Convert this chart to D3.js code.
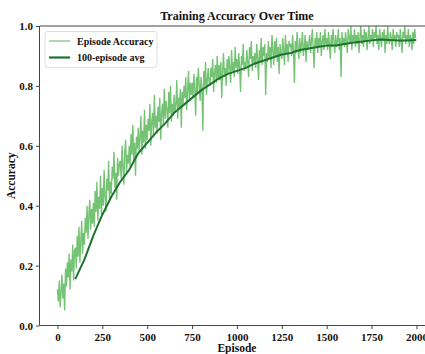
<!DOCTYPE html>
<html>
<head>
<meta charset="utf-8">
<script src="https://cdn.jsdelivr.net/npm/d3@7"></script>
<style>
  html, body { margin: 0; padding: 0; background: #fff; overflow: hidden; }
  svg { display: block; }
  text { font-family: "Liberation Serif", "Times New Roman", serif; font-weight: bold; fill: #111; }
</style>
</head>
<body>
<svg id="chart" width="425" height="354"></svg>
<script>
// ---- data ----
const episodeStep = 5;
const episodeAccuracy = [
  0.12,0.08,0.15,0.06,0.11,0.17,0.09,0.14,0.05,0.19,
  0.13,0.21,0.16,0.24,0.12,0.22,0.18,0.27,0.15,0.25,
  0.26,0.19,0.30,0.23,0.33,0.21,0.28,0.35,0.24,0.31,
  0.27,0.36,0.31,0.40,0.29,0.37,0.42,0.32,0.39,0.34,
  0.41,0.33,0.45,0.38,0.48,0.35,0.43,0.39,0.50,0.37,
  0.46,0.40,0.52,0.43,0.38,0.49,0.45,0.55,0.42,0.48,
  0.44,0.53,0.49,0.58,0.46,0.51,0.42,0.56,0.50,0.54,
  0.55,0.49,0.60,0.53,0.47,0.58,0.62,0.51,0.57,0.54,
  0.60,0.53,0.64,0.57,0.67,0.55,0.61,0.50,0.63,0.59,
  0.66,0.58,0.63,0.70,0.57,0.65,0.61,0.72,0.59,0.67,
  0.62,0.69,0.65,0.74,0.60,0.68,0.71,0.63,0.77,0.66,
  0.70,0.64,0.73,0.68,0.76,0.62,0.71,0.74,0.67,0.79,
  0.69,0.75,0.72,0.66,0.78,0.71,0.80,0.68,0.74,0.70,
  0.77,0.71,0.74,0.82,0.69,0.76,0.73,0.79,0.66,0.78,
  0.74,0.80,0.76,0.83,0.72,0.78,0.85,0.75,0.81,0.77,
  0.81,0.76,0.84,0.79,0.70,0.83,0.78,0.86,0.80,0.75,
  0.83,0.79,0.65,0.85,0.80,0.88,0.77,0.82,0.86,0.81,
  0.80,0.86,0.83,0.89,0.78,0.84,0.87,0.81,0.90,0.82,
  0.87,0.82,0.88,0.76,0.85,0.91,0.83,0.86,0.80,0.89,
  0.84,0.90,0.86,0.81,0.92,0.85,0.88,0.83,0.93,0.86,
  0.89,0.84,0.91,0.86,0.78,0.90,0.87,0.94,0.85,0.88,
  0.86,0.92,0.88,0.83,0.93,0.89,0.95,0.85,0.90,0.87,
  0.91,0.86,0.94,0.89,0.82,0.92,0.88,0.96,0.87,0.93,
  0.90,0.94,0.77,0.91,0.88,0.95,0.89,0.93,0.86,0.97,
  0.92,0.87,0.95,0.90,0.96,0.88,0.93,0.84,0.94,0.91,
  0.89,0.96,0.92,0.87,0.97,0.91,0.94,0.88,0.95,0.93,
  0.94,0.90,0.97,0.92,0.81,0.95,0.91,0.98,0.93,0.89,
  0.96,0.91,0.94,0.98,0.90,0.93,0.97,0.88,0.95,0.92,
  0.94,0.97,0.91,0.95,0.99,0.92,0.86,0.96,0.93,0.98,
  0.91,0.96,0.93,0.98,0.90,0.95,0.97,0.92,0.99,0.94,
  0.96,0.92,0.98,0.94,0.89,0.97,0.93,0.99,0.95,0.91,
  0.97,0.93,0.95,0.99,0.92,0.96,0.83,0.98,0.94,0.96,
  0.93,0.98,0.95,0.91,0.99,0.96,0.94,1.00,0.92,0.97,
  0.95,0.99,0.93,0.97,0.94,0.98,0.91,0.96,1.00,0.94,
  0.97,0.93,0.99,0.95,0.98,0.92,0.96,1.00,0.94,0.97,
  0.95,0.99,0.93,0.98,0.96,1.00,0.94,0.97,0.92,0.99,
  0.96,0.93,0.98,0.95,0.99,0.91,0.97,0.94,1.00,0.95,
  0.94,0.98,0.96,0.92,0.99,0.95,0.97,0.93,0.98,0.96,
  0.97,0.93,0.99,0.95,0.91,0.98,0.96,1.00,0.94,0.97,
  0.95,0.99,0.93,0.97,0.96,0.92,0.98,0.94,0.99,0.96
];
const avgEpisodes = [99,150,200,250,300,350,400,450,500,550,600,650,700,750,800,850,900,950,1000,
  1050,1100,1150,1200,1250,1300,1350,1400,1450,1500,1550,1600,1650,1700,1750,1800,1850,1900,1950,1999];
const avgAccuracy = [0.155,0.22,0.30,0.37,0.43,0.48,0.52,0.575,0.61,0.645,0.675,0.71,0.735,0.76,0.785,0.805,0.825,0.84,0.85,
  0.86,0.875,0.885,0.895,0.905,0.91,0.92,0.925,0.93,0.935,0.935,0.94,0.945,0.948,0.952,0.955,0.953,0.952,0.952,0.953];
const xTicks = [0,250,500,750,1000,1250,1500,1750,2000];
const yTicks = [0.0,0.2,0.4,0.6,0.8,1.0];
const seriesNames = ["Episode Accuracy", "100-episode avg"];
const titleText = "Training Accuracy Over Time";
const xLabel = "Episode";
const yLabel = "Accuracy";

// ---- layout ----
const svg = d3.select("#chart");
const L = 39.5, R = 434.4, T = 26, B = 325.5;
const x = d3.scaleLinear().domain([-100, 2100]).range([L, R]);
const y = d3.scaleLinear().domain([0, 1]).range([B, T]);
const rawColor = "#5cb85c", avgColor = "#1b7330";

const raw = episodeAccuracy.map((v, i) => [i * episodeStep, v]);
const avg = avgEpisodes.map((e, i) => [e, avgAccuracy[i]]);
const line = d3.line().x(d => x(d[0])).y(d => y(d[1]));

svg.append("defs").append("clipPath").attr("id", "clip")
  .append("rect").attr("x", L).attr("y", T).attr("width", R - L).attr("height", B - T);

const plot = svg.append("g").attr("clip-path", "url(#clip)");
plot.append("path").datum(raw).attr("d", line)
  .attr("fill", "none").attr("stroke", rawColor).attr("stroke-width", 1.35).attr("stroke-opacity", 0.85);
plot.append("path").datum(avg).attr("d", line)
  .attr("fill", "none").attr("stroke", avgColor).attr("stroke-width", 2);

// axes
const xAxis = d3.axisBottom(x).tickValues(xTicks).tickFormat(d3.format("d")).tickSize(3.5).tickPadding(4);
const yAxis = d3.axisLeft(y).tickValues(yTicks).tickFormat(d3.format(".1f")).tickSize(3.5).tickPadding(3);
const gx = svg.append("g").attr("transform", `translate(0,${B})`).call(xAxis);
const gy = svg.append("g").attr("transform", `translate(${L},0)`).call(yAxis);
[gx, gy].forEach(g => {
  g.select(".domain").remove();
  g.selectAll(".tick line").attr("stroke", "#444");
  g.selectAll(".tick text").attr("font-size", 11).style("font-family", "'Liberation Serif', serif").style("font-weight", "bold").attr("fill", "#111");
});

// spines
const spine = svg.append("g").attr("stroke", "#444").attr("stroke-width", 1).attr("fill", "none");
spine.append("line").attr("x1", L).attr("x2", L).attr("y1", T).attr("y2", B);
spine.append("line").attr("x1", L).attr("x2", R).attr("y1", T).attr("y2", T);
spine.append("line").attr("x1", L).attr("x2", R).attr("y1", B).attr("y2", B);

// title and labels
svg.append("text").attr("x", (L + R) / 2).attr("y", 20).attr("text-anchor", "middle")
  .attr("font-size", 12).text(titleText);
svg.append("text").attr("x", (L + R) / 2).attr("y", 352).attr("text-anchor", "middle")
  .attr("font-size", 11.5).text(xLabel);
svg.append("text").attr("transform", `translate(15,${(T + B) / 2}) rotate(-90)`).attr("text-anchor", "middle")
  .attr("font-size", 11.5).text(yLabel);

// legend
const lg = svg.append("g");
lg.append("rect").attr("x", 45).attr("y", 31.5).attr("width", 112).attr("height", 36).attr("rx", 3)
  .attr("fill", "#fff").attr("fill-opacity", 0.85).attr("stroke", "#ddd").attr("stroke-width", 1);
const items = [{ c: rawColor, w: 1.2, o: 0.85 }, { c: avgColor, w: 2.2, o: 1 }];
items.forEach((it, i) => {
  const yy = 41 + i * 16.5;
  lg.append("line").attr("x1", 49).attr("x2", 70).attr("y1", yy).attr("y2", yy)
    .attr("stroke", it.c).attr("stroke-width", it.w).attr("stroke-opacity", it.o);
  lg.append("text").attr("x", 77).attr("y", yy + 3.5).attr("font-size", 10).text(seriesNames[i]);
});
</script>
</body>
</html>
